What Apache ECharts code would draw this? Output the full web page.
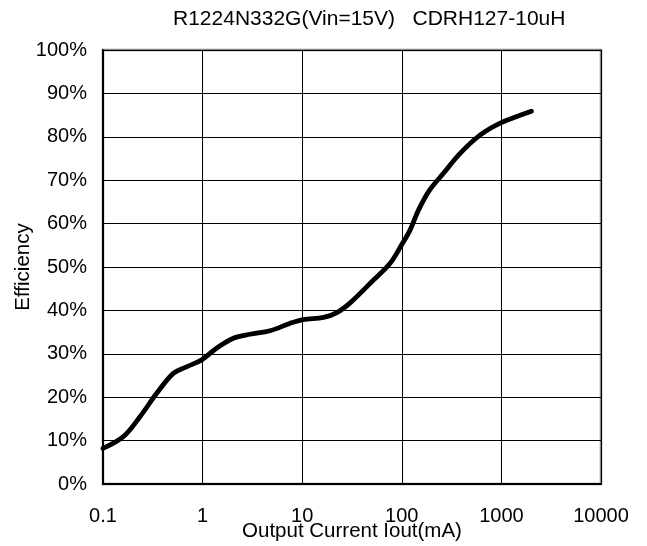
<!DOCTYPE html>
<html>
<head>
<meta charset="utf-8">
<script src="https://cdn.jsdelivr.net/npm/echarts@6/dist/echarts.min.js"></script>
<style>
html,body{margin:0;padding:0;background:#fff;}
#chart{width:647px;height:546px;}
</style>
</head>
<body>
<div id="chart"></div>
<script>
const titleText = 'R1224N332G(Vin=15V)   CDRH127-10uH';
const xName = 'Output Current Iout(mA)';
const yName = 'Efficiency';
const xTickLabels = ['0.1', '1', '10', '100', '1000', '10000'];
const current = [0.1, 0.16, 0.235, 0.346, 0.508, 0.69, 0.98, 1.38, 2.04, 3.0, 4.75, 7.5, 10.2, 16.4, 22.3, 30.5, 52, 76, 99, 121, 147, 190, 262, 385, 610, 960, 1410, 2000];
const efficiency = [8.2, 10.9, 15.5, 20.9, 25.5, 27, 28.6, 31.3, 33.6, 34.5, 35.3, 37, 37.9, 38.4, 39.5, 41.8, 47, 50.8, 55, 58.5, 63.1, 67.7, 71.6, 76.2, 80.4, 83.1, 84.6, 85.9];

const font = 'Liberation Sans, Arial, sans-serif';
const chart = echarts.init(document.getElementById('chart'), null, {renderer: 'canvas'});
chart.setOption({
  animation: false,
  backgroundColor: '#fff',
  title: {
    text: titleText,
    left: 168,
    top: 4,
    textStyle: {fontFamily: font, fontSize: 21, fontWeight: 'normal', color: '#000'}
  },
  grid: {
    left: 103, right: 46, top: 50, bottom: 62,
    outerBoundsMode: 'none',
    containLabel: false,
    show: true, borderColor: '#888', borderWidth: 2.5, backgroundColor: '#fff'
  },
  xAxis: {
    type: 'log', logBase: 10, min: 0.1, max: 10000,
    name: xName, nameLocation: 'middle', nameGap: 37, nameMoveOverlap: false,
    nameTextStyle: {fontFamily: font, fontSize: 20.5, color: '#000'},
    axisLine: {show: true, onZero: false, lineStyle: {color: '#000', width: 2}},
    axisTick: {show: false},
    minorTick: {show: false},
    minorSplitLine: {show: false},
    splitLine: {show: true, lineStyle: {color: '#000', width: 1}},
    axisLabel: {
      margin: 22, fontFamily: font, fontSize: 20, color: '#000',
      formatter: function (v) {
        const i = Math.round(Math.log10(v) + 1);
        return xTickLabels[i] !== undefined ? xTickLabels[i] : '';
      }
    }
  },
  yAxis: {
    type: 'value', min: 0, max: 100, interval: 10,
    name: yName, nameLocation: 'middle', nameGap: 69, nameRotate: 90, nameMoveOverlap: false,
    nameTextStyle: {fontFamily: font, fontSize: 20.5, color: '#000'},
    axisLine: {show: true, lineStyle: {color: '#000', width: 2}},
    axisTick: {show: false},
    splitLine: {show: true, lineStyle: {color: '#000', width: 1}},
    axisLabel: {margin: 16, fontFamily: font, fontSize: 20, color: '#000', formatter: '{value}%'}
  },
  series: [{
    type: 'line',
    data: current.map((c, i) => [c, efficiency[i]]),
    smooth: 0.35,
    symbol: 'none',
    lineStyle: {color: '#000', width: 4.8, cap: 'round'}
  }]
});
</script>
</body>
</html>
